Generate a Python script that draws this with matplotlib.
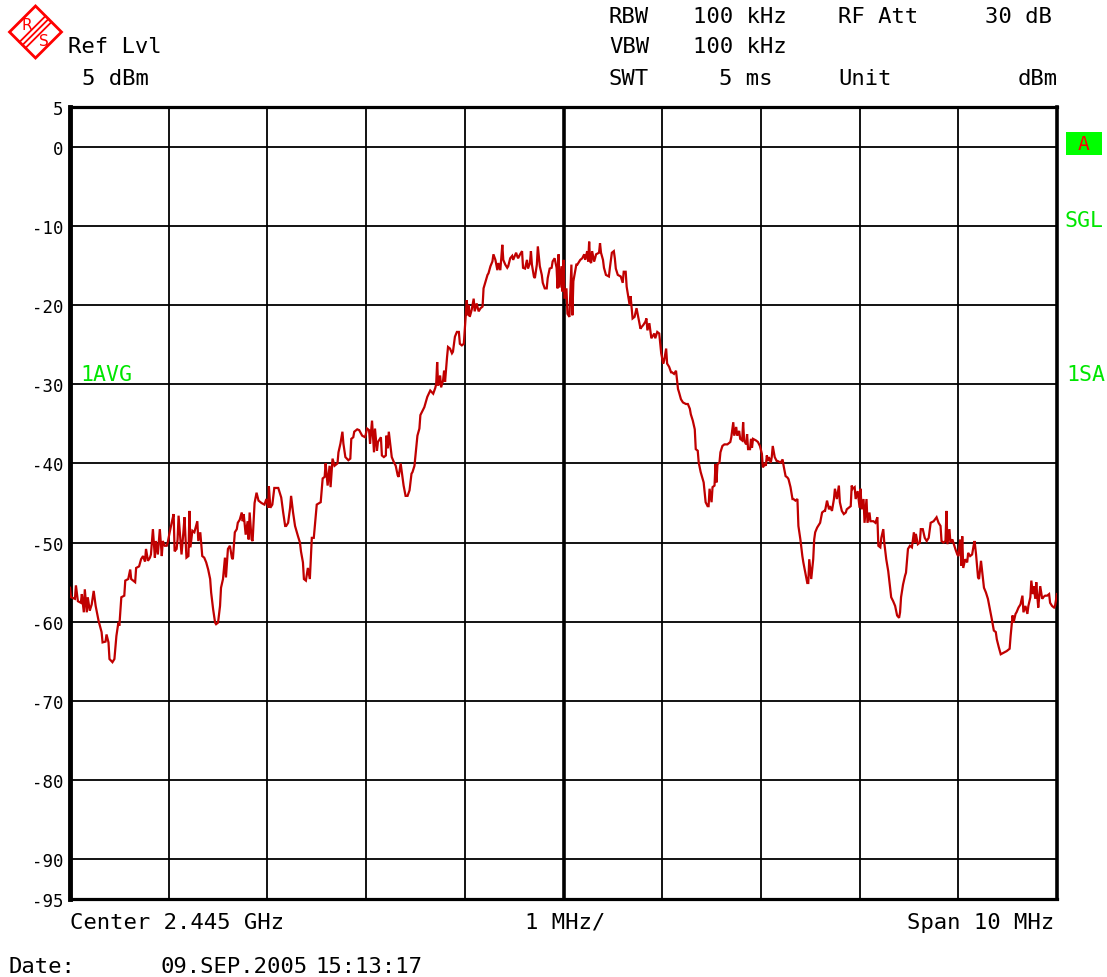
import matplotlib
matplotlib.use('Agg')
import matplotlib.pyplot as plt
from matplotlib.patches import Polygon, Rectangle
from matplotlib.lines import Line2D

# ---------------- data ----------------
freq_mhz = [
    -5.00, -4.99, -4.95, -4.94, -4.92, -4.89, -4.88, -4.86, -4.85, -4.83, -4.82, -4.80, -4.78, -4.76, -4.74,
    -4.71, -4.68, -4.67, -4.64, -4.63, -4.61, -4.60, -4.57, -4.55, -4.53, -4.51, -4.50, -4.48, -4.45, -4.44,
    -4.41, -4.39, -4.38, -4.34, -4.33, -4.30, -4.28, -4.26, -4.24, -4.23, -4.21, -4.19, -4.18, -4.16, -4.14,
    -4.13, -4.11, -4.09, -4.07, -4.06, -4.04, -4.02, -4.01, -3.99, -3.97, -3.95, -3.94, -3.92, -3.91, -3.90,
    -3.87, -3.85, -3.84, -3.82, -3.80, -3.79, -3.78, -3.76, -3.74, -3.71, -3.70, -3.68, -3.66, -3.64, -3.62,
    -3.60, -3.58, -3.57, -3.55, -3.53, -3.52, -3.50, -3.48, -3.47, -3.45, -3.43, -3.42, -3.40, -3.38, -3.36,
    -3.35, -3.33, -3.31, -3.30, -3.28, -3.26, -3.25, -3.24, -3.22, -3.20, -3.19, -3.18, -3.16, -3.15, -3.13,
    -3.11, -3.09, -3.06, -3.03, -3.01, -2.99, -2.985, -2.97, -2.95, -2.93, -2.89, -2.86, -2.84, -2.82, -2.81,
    -2.79, -2.77, -2.76, -2.74, -2.72, -2.69, -2.67, -2.66, -2.64, -2.63, -2.61, -2.59, -2.57, -2.55, -2.53,
    -2.50, -2.46, -2.44, -2.42, -2.41, -2.39, -2.37, -2.36, -2.34, -2.32, -2.29, -2.28, -2.26, -2.24, -2.23,
    -2.21, -2.18, -2.16, -2.15, -2.13, -2.12, -2.09, -2.07, -2.04, -2.01, -1.99, -1.97, -1.96, -1.94, -1.92,
    -1.91, -1.89, -1.88, -1.85, -1.84, -1.82, -1.80, -1.795, -1.78, -1.77, -1.75, -1.74, -1.72, -1.70, -1.68,
    -1.67, -1.65, -1.63, -1.62, -1.60, -1.58, -1.56, -1.54, -1.53, -1.51, -1.50, -1.48, -1.46, -1.45, -1.41,
    -1.38, -1.35, -1.32, -1.30,
    -1.29, -1.28, -1.27, -1.25, -1.24, -1.22, -1.21, -1.20, -1.18, -1.17, -1.15, -1.13, -1.12, -1.10, -1.08,
    -1.06, -1.05, -1.03, -1.01, -1.00, -0.98, -0.97, -0.96, -0.95, -0.93, -0.91, -0.90, -0.88, -0.86, -0.84,
    -0.82, -0.81, -0.77, -0.76, -0.74, -0.72, -0.71, -0.69, -0.67, -0.66, -0.64, -0.62, -0.61, -0.59, -0.57,
    -0.56, -0.54, -0.52, -0.51, -0.48, -0.47, -0.46, -0.44, -0.42, -0.41, -0.39, -0.37, -0.36, -0.34, -0.33,
    -0.32, -0.30, -0.29, -0.27, -0.26, -0.24, -0.22, -0.21, -0.19, -0.17, -0.16, -0.14, -0.12, -0.11, -0.09,
    -0.07, -0.06, -0.05, -0.04, -0.02, -0.01, 0.00, 0.01, 0.03, 0.04, 0.06, 0.08, 0.09, 0.10, 0.13,
    0.14, 0.16, 0.17, 0.19, 0.21, 0.22, 0.24, 0.25, 0.26, 0.27, 0.28, 0.29, 0.31, 0.32, 0.33,
    0.36, 0.37, 0.38, 0.40, 0.41, 0.43, 0.46, 0.47, 0.49, 0.51, 0.52, 0.53, 0.55, 0.58, 0.60,
    0.61, 0.63, 0.64, 0.66, 0.67, 0.68, 0.70, 0.72, 0.74, 0.76, 0.78, 0.79, 0.81, 0.83, 0.84,
    0.85, 0.87, 0.89, 0.91, 0.92, 0.93, 0.95, 0.97, 0.98, 0.99, 1.01, 1.02, 1.04, 1.05, 1.07,
    1.09, 1.10, 1.12, 1.14, 1.16, 1.17, 1.19, 1.21, 1.24, 1.26, 1.28, 1.29, 1.31, 1.33,
    1.34, 1.36, 1.37, 1.39, 1.41, 1.42, 1.44, 1.46, 1.47, 1.48, 1.50, 1.51, 1.53, 1.54, 1.55,
    1.56, 1.58, 1.59, 1.61, 1.63, 1.66, 1.69, 1.70, 1.72, 1.73, 1.75, 1.76, 1.78, 1.79, 1.81,
    1.82, 1.83, 1.85, 1.86, 1.87, 1.89, 1.90, 1.91, 1.92, 1.95, 1.97, 1.99, 2.01, 2.02, 2.04,
    2.05, 2.06, 2.07, 2.08, 2.10, 2.11, 2.12, 2.14, 2.16, 2.17, 2.20, 2.22, 2.23, 2.25, 2.27,
    2.28, 2.30, 2.32, 2.33, 2.35, 2.37, 2.38, 2.40, 2.42, 2.43, 2.45, 2.47, 2.48, 2.49, 2.51,
    2.53, 2.54, 2.55, 2.57, 2.59, 2.60, 2.62, 2.64, 2.65, 2.67, 2.69, 2.70, 2.72, 2.74, 2.75,
    2.77, 2.79, 2.80, 2.82, 2.84, 2.86, 2.87, 2.89, 2.91, 2.92, 2.93, 2.95, 2.96, 2.98, 3.00,
    3.01, 3.02, 3.04, 3.05, 3.07, 3.08, 3.10, 3.11, 3.14, 3.16, 3.18, 3.19, 3.21,
    3.22, 3.24, 3.25, 3.27, 3.29, 3.32, 3.34, 3.36, 3.38, 3.40, 3.41, 3.42, 3.44, 3.46, 3.47,
    3.49, 3.51, 3.53, 3.55, 3.56, 3.57, 3.59, 3.61, 3.62, 3.64, 3.66, 3.68, 3.70, 3.72, 3.75,
    3.78, 3.80, 3.82, 3.83, 3.85, 3.87, 3.88, 3.89, 3.91, 3.92, 3.94, 3.95, 3.97, 3.99, 4.00,
    4.02, 4.03, 4.04, 4.05, 4.07, 4.09, 4.10, 4.12, 4.14, 4.155, 4.165, 4.18, 4.20, 4.21, 4.23,
    4.25, 4.26, 4.28, 4.30, 4.32, 4.34, 4.36, 4.38, 4.39, 4.41, 4.43, 4.46, 4.49, 4.52, 4.53,
    4.55, 4.56, 4.58, 4.59, 4.61, 4.63, 4.65, 4.66, 4.68, 4.70, 4.71, 4.73, 4.74, 4.755, 4.765,
    4.78, 4.79, 4.80, 4.81, 4.83, 4.85, 4.86, 4.88, 4.90, 4.92, 4.93, 4.95, 4.97, 4.98, 5.00,
]
level_dbm = [
    -55.7, -56.9, -57.1, -55.4, -57.4, -57.6, -56.5, -58.8, -55.9, -58.8, -56.9, -58.6, -57.8, -56.1, -58.0,
    -59.9, -61.3, -62.6, -62.5, -61.6, -62.6, -64.7, -65.1, -64.7, -61.8, -60.1, -60.5, -56.9, -56.7, -54.8,
    -54.6, -53.4, -54.6, -55.0, -53.2, -53.0, -52.1, -51.7, -52.4, -50.8, -52.3, -51.9, -51.5, -48.3, -51.9,
    -49.8, -51.5, -48.3, -51.7, -49.8, -50.4, -50.4, -50.0, -48.7, -47.5, -46.4, -51.1, -50.8, -49.6, -46.6,
    -51.5, -48.5, -46.8, -51.9, -51.7, -46.0, -50.6, -48.5, -48.7, -47.3, -49.8, -48.7, -51.7, -51.9, -52.5,
    -53.4, -54.6, -56.3, -58.4, -60.1, -60.3, -60.1, -58.0, -55.7, -54.6, -51.9, -54.4, -50.8, -50.4, -51.9,
    -52.1, -48.7, -48.3, -47.5, -47.1, -46.2, -47.3, -46.4, -49.0, -47.3, -49.6, -46.2, -49.6, -49.8, -45.0,
    -43.7, -44.7, -45.0, -45.2, -44.5, -45.6, -42.9, -45.6, -45.2, -43.1, -43.1, -44.3, -46.2, -47.9, -47.9,
    -47.5, -45.6, -44.1, -46.2, -47.9, -49.2, -50.0, -51.1, -52.5, -54.6, -54.8, -53.2, -54.6, -49.4, -49.4,
    -45.2, -44.9, -41.9, -41.7, -40.0, -42.8, -40.3, -43.0, -39.4, -40.3, -40.0, -38.6, -37.5, -36.0, -37.5,
    -39.2, -39.6, -39.4, -36.9, -36.7, -36.0, -35.7, -35.8, -36.5, -36.7, -35.6, -35.8, -37.5, -34.6, -38.6,
    -35.6, -38.4, -37.3, -36.7, -39.0, -39.2, -39.0, -36.5, -38.1, -36.0, -38.1, -39.2, -39.8, -40.3, -41.5,
    -41.7, -40.0, -41.9, -42.8, -44.1, -44.1, -43.4, -41.3, -41.1, -40.3, -39.0, -36.5, -35.6, -33.9, -32.9,
    -31.6, -30.8, -31.2, -30.5,
    -30.0, -27.2, -30.2, -28.9, -30.4, -29.5, -28.3, -29.7, -26.6, -25.3, -25.5, -26.1, -25.9, -24.0, -23.4,
    -23.4, -24.9, -25.1, -24.9, -23.0, -19.4, -21.3, -20.0, -21.5, -20.6, -19.2, -20.8, -19.8, -20.8, -20.4,
    -20.2, -17.9, -16.2, -16.0, -15.1, -14.5, -13.6, -14.3, -15.6, -14.7, -15.6, -12.4, -14.3, -14.9, -15.3,
    -15.1, -14.1, -13.8, -14.3, -13.4, -13.8, -14.1, -13.6, -13.2, -15.3, -15.4, -14.3, -15.4, -14.7, -13.2,
    -14.9, -16.4, -16.6, -14.9, -12.6, -15.1, -16.2, -17.2, -17.9, -17.9, -16.6, -15.4, -15.3, -14.5, -14.1,
    -15.3, -17.9, -13.6, -17.8, -15.1, -18.3, -14.3, -19.2, -17.9, -21.1, -21.5, -14.9, -21.3, -17.0, -14.9,
    -14.9, -14.5, -14.3, -14.1, -13.6, -14.3, -13.2, -14.5, -12.0, -14.5, -14.7, -13.2, -14.5, -14.1, -13.6,
    -13.4, -12.2, -13.4, -14.3, -15.3, -16.2, -16.4, -15.3, -13.4, -13.2, -14.1, -15.4, -16.2, -16.4, -17.2,
    -15.8, -15.8, -17.7, -19.2, -20.0, -18.9, -21.7, -21.5, -20.4, -21.7, -23.0, -22.8, -22.5, -22.1, -21.7,
    -23.2, -22.3, -24.2, -23.8, -23.6, -24.2, -23.4, -23.6, -24.9, -26.1, -27.4, -27.0, -25.5, -27.4, -27.8,
    -28.5, -28.5, -28.7, -28.3, -30.6, -31.0, -31.9, -32.3, -32.5, -32.5, -33.1, -33.8, -34.6, -35.7,
    -38.2, -38.4, -39.9, -41.1, -42.0, -42.4, -44.9, -45.4, -45.4, -43.2, -44.9, -43.0, -42.8, -40.1, -42.4,
    -40.1, -39.9, -38.6, -37.8, -37.6, -37.6, -37.3, -36.7, -34.8, -36.5, -35.4, -36.5, -35.9, -36.9, -37.1,
    -34.8, -37.1, -37.6, -36.3, -38.2, -38.2, -36.9, -38.0, -36.9, -37.1, -37.3, -37.8, -38.8, -40.5, -40.1,
    -40.3, -39.0, -39.7, -39.2, -39.9, -39.2, -37.8, -39.2, -39.7, -39.7, -39.9, -39.5, -40.3, -41.6, -41.8,
    -42.0, -43.0, -44.5, -44.5, -44.7, -44.5, -47.9, -49.6, -51.7, -52.5, -53.8, -55.1, -55.1, -52.1, -54.6,
    -52.1, -49.6, -48.7, -48.1, -47.7, -47.5, -46.2, -46.0, -46.0, -44.7, -45.8, -45.4, -46.0, -44.5, -43.2,
    -44.5, -42.8, -44.9, -46.0, -46.4, -46.2, -45.8, -45.6, -45.4, -42.8, -43.2, -43.0, -44.5, -43.5, -45.6,
    -43.2, -45.8, -44.5, -47.5, -44.5, -47.5, -46.2, -47.3, -47.3, -47.5, -46.8, -50.4, -50.6,
    -49.4, -48.3, -50.0, -52.1, -53.6, -56.9, -57.4, -58.0, -59.2, -59.5, -58.8, -56.9, -55.3, -54.2, -53.8,
    -50.8, -50.4, -50.6, -48.7, -50.0, -48.9, -50.2, -50.0, -48.3, -48.3, -49.4, -49.8, -49.4, -47.5, -47.3,
    -46.8, -47.5, -47.9, -49.8, -50.0, -49.8, -46.0, -50.2, -48.3, -50.0, -49.6, -50.0, -50.8, -51.5, -51.7,
    -49.6, -52.9, -49.2, -53.2, -52.1, -52.5, -51.3, -51.7, -51.5, -50.4, -49.8, -51.5, -54.4, -54.6, -52.3,
    -54.6, -55.7, -56.3, -57.1, -58.4, -59.7, -61.1, -61.3, -62.2, -63.2, -64.1, -63.9, -63.7, -63.4, -61.8,
    -59.2, -60.1, -59.0, -58.8, -58.2, -57.8, -56.7, -58.8, -58.0, -59.0, -58.0, -56.9, -54.8, -56.5, -55.5,
    -57.1, -55.0, -56.7, -58.2, -55.5, -57.1, -56.9, -56.7, -56.7, -56.5, -57.6, -58.0, -58.2, -58.0, -56.5,
]

x_grid = [-4, -3, -2, -1, 0, 1, 2, 3, 4]
y_grid = [0, -10, -20, -30, -40, -50, -60, -70, -80, -90]
y_ticks = [5, 0, -10, -20, -30, -40, -50, -60, -70, -80, -90, -95]
y_tick_labels = ['5', '0', '-10', '-20', '-30', '-40', '-50', '-60', '-70', '-80', '-90', '-95']

header_rows = [
    [('RBW', 609), ('100 kHz', 693), ('RF Att', 838), ('30 dB', 985)],
    [('VBW', 609), ('100 kHz', 693)],
    [('SWT', 609), ('5 ms', 719), ('Unit', 838), ('dBm', 1018)],
]

# ---------------- figure ----------------
W, H = 1107, 978
fig = plt.figure(figsize=(W / 100, H / 100), dpi=100)
fig.patch.set_facecolor('white')
MONO = 'DejaVu Sans Mono'
RED = '#c00000'
GREEN = '#00e600'
FS = 16


def fxy(px, py):
    return px / W, 1 - py / H


ax = fig.add_axes([70 / W, 1 - 900 / H, 987 / W, 792 / H])
ax.set_xlim(-5, 5)
ax.set_ylim(-95, 5)
for v in x_grid:
    ax.axvline(v, color='black', lw=2.6 if v == 0 else 1.3, zorder=1)
for v in y_grid:
    ax.axhline(v, color='black', lw=1.3, zorder=1)
ax.plot(freq_mhz, level_dbm, color=RED, lw=1.6, zorder=3, solid_joinstyle='miter')

ax.spines['left'].set_linewidth(3.5)
ax.spines['bottom'].set_linewidth(2.3)
ax.spines['top'].set_linewidth(2.3)
ax.spines['right'].set_linewidth(2.6)
ax.set_xticks([])
ax.set_yticks(y_ticks)
ax.set_yticklabels(y_tick_labels, fontfamily=MONO, fontsize=12.5)
ax.tick_params(axis='y', length=0, pad=5)

# header texts
row_y = [17, 47, 79]
for row, yy in zip(header_rows, row_y):
    for txt, xx in row:
        fig.text(*fxy(xx, yy), txt, fontfamily=MONO, fontsize=FS, va='center', ha='left')

fig.text(*fxy(68, 47), 'Ref Lvl', fontfamily=MONO, fontsize=FS, va='center', ha='left')
fig.text(*fxy(82, 79), '5 dBm', fontfamily=MONO, fontsize=FS, va='center', ha='left')

fig.text(*fxy(70, 923), 'Center 2.445 GHz', fontfamily=MONO, fontsize=FS, va='center', ha='left')
fig.text(*fxy(525, 923), '1 MHz/', fontfamily=MONO, fontsize=FS, va='center', ha='left')
fig.text(*fxy(1054, 923), 'Span 10 MHz', fontfamily=MONO, fontsize=FS, va='center', ha='right')
fig.text(*fxy(8, 967), 'Date:', fontfamily=MONO, fontsize=FS, va='center', ha='left')
fig.text(*fxy(160, 967), '09.SEP.2005', fontfamily=MONO, fontsize=FS, va='center', ha='left')
fig.text(*fxy(315, 967), '15:13:17', fontfamily=MONO, fontsize=FS, va='center', ha='left')

# green annotations
fig.text(*fxy(80, 375), '1AVG', fontfamily=MONO, fontsize=15.5, color=GREEN, va='center', ha='left')
fig.text(*fxy(1065, 221), 'SGL', fontfamily=MONO, fontsize=15.5, color=GREEN, va='center', ha='left')
fig.text(*fxy(1066, 375), '1SA', fontfamily=MONO, fontsize=15.5, color=GREEN, va='center', ha='left')
bx0, by0 = fxy(1066, 156)
bx1, by1 = fxy(1102, 133)
fig.patches.append(Rectangle((bx0, by0), bx1 - bx0, by1 - by0, transform=fig.transFigure,
                             facecolor='#00ff00', edgecolor='none'))
fig.text(*fxy(1084, 145), 'A', fontfamily=MONO, fontsize=14, color='#ff0000', va='center', ha='center')

# R&S logo
cx, cy, r = 35.5, 33, 26
diamond = [fxy(cx - r, cy), fxy(cx, cy - r), fxy(cx + r, cy), fxy(cx, cy + r)]
fig.patches.append(Polygon(diamond, closed=True, transform=fig.transFigure,
                           facecolor='none', edgecolor='#ff0000', lw=2.0))
for off in (-3, 0, 3):
    p0 = fxy(cx - r / 2 + off, cy + r / 2 + off)
    p1 = fxy(cx + r / 2 + off, cy - r / 2 + off)
    fig.lines.append(Line2D([p0[0], p1[0]], [p0[1], p1[1]], transform=fig.transFigure,
                            color='#ff0000', lw=1.3))
fig.text(*fxy(27, 26), 'R', fontfamily='DejaVu Sans', fontsize=11, color='#ff0000', va='center', ha='center')
fig.text(*fxy(44, 42), 'S', fontfamily='DejaVu Sans', fontsize=11, color='#ff0000', va='center', ha='center')

fig.savefig('out.png', dpi=100, facecolor='white')
